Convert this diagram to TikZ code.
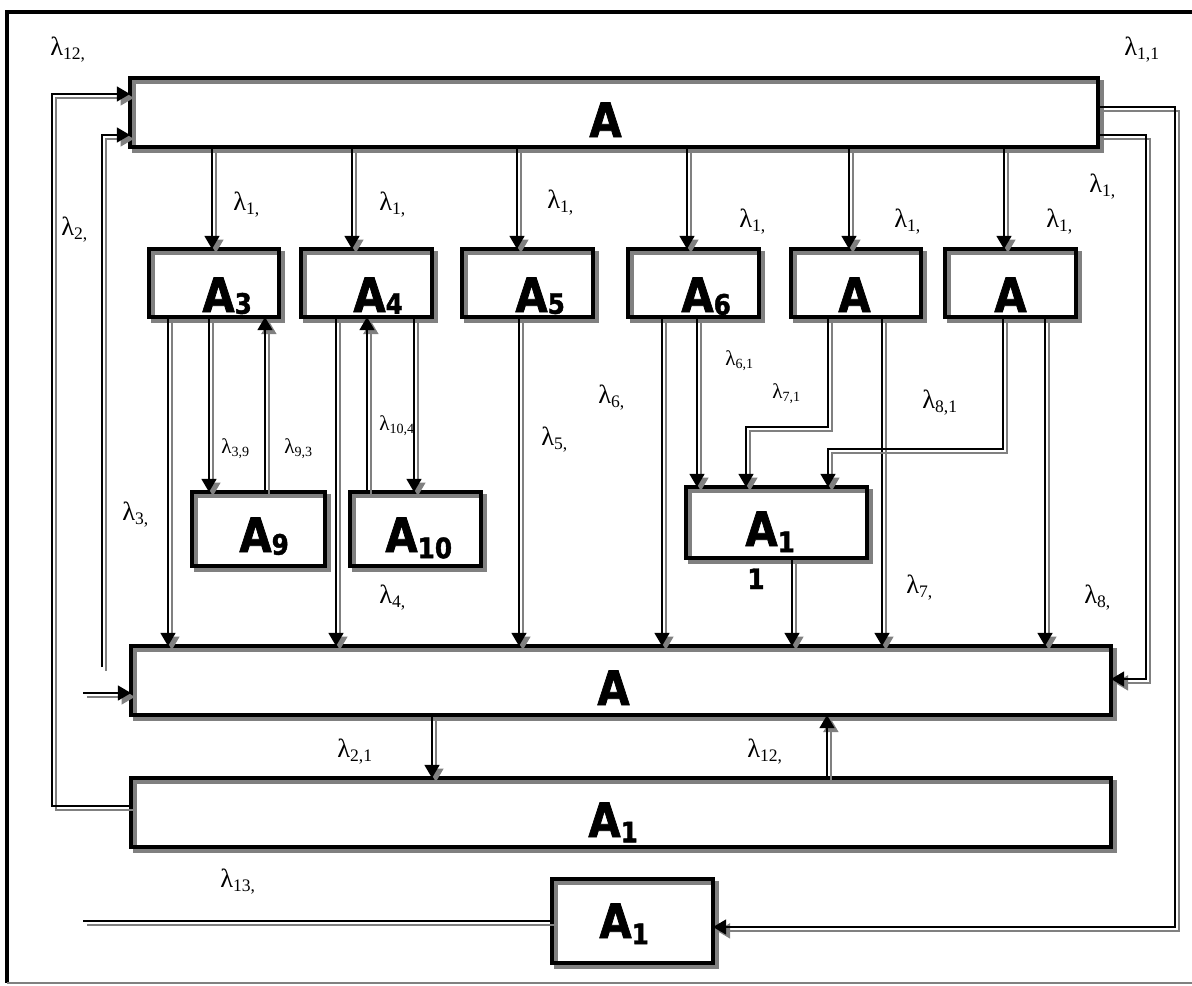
\documentclass[tikz,border=0pt]{standalone}
\usepackage{fontspec}
\setmainfont{Liberation Serif}
\newfontfamily\boxfont[FakeStretch=0.88, BoldFeatures={FakeBold=1.5}]{DejaVu Sans}
\usetikzlibrary{arrows.meta}
\definecolor{shd}{gray}{0.5}
\newcommand\Sb[2][1pt]{\raisebox{-#1}{\fontsize{16}{16}\selectfont #2}}
\newcommand\Lm[1]{λ\raisebox{-2.5pt}{\fontsize{10}{10}\selectfont #1}}
\newcommand\Ls[1]{λ\raisebox{-2pt}{\fontsize{8}{8}\selectfont #1}}
\newcommand\mkbox[5]{\node[bx, minimum width={(#4-#2)*0.02cm}, minimum height={(#5-#3)*0.02cm}] (#1) at ({(#2+#4)/2},{(#3+#5)/2}) {};}
\begin{document}
\begin{tikzpicture}[x=0.02cm,y=-0.02cm,
  bx/.style={draw, line width=2pt, inner sep=0pt, outer sep=0pt,
    preaction={draw=shd, line width=2pt, transform canvas={shift={(2.4pt,-2.4pt)}}}},
  ln/.style={line width=1.1pt,
    preaction={draw=shd, line width=1.1pt, transform canvas={shift={(2.2pt,-2.2pt)}}}},
  ar/.style={ln, -{Triangle[length=7.5pt,width=8.5pt]}},
  big/.style={font=\boxfont\bfseries\fontsize{27}{27}\selectfont, inner sep=0pt, anchor=base west},
  lb/.style={font=\fontsize{15}{15}\selectfont, inner sep=0pt, anchor=base west},
  ls/.style={font=\fontsize{12}{12}\selectfont, inner sep=0pt, anchor=base west}]
\useasboundingbox (0,0) rectangle (1192,985);
% frame
\draw[line width=2.2pt] (1192,12) -- (7,12) -- (7,983);
\draw[shd, line width=0.8pt] (7,983) -- (1192,983);
% boxes
\mkbox{ta}{130}{78}{1098}{147}
\mkbox{a3}{149}{249}{279}{317}
\mkbox{a4}{301}{249}{432}{317}
\mkbox{a5}{462}{249}{593}{317}
\mkbox{a6}{628}{249}{759}{317}
\mkbox{a7}{791}{249}{921}{317}
\mkbox{a8}{945}{249}{1076}{317}
\mkbox{a9}{192}{492}{325}{566}
\mkbox{a10}{350}{492}{481}{566}
\mkbox{a11}{686}{487}{867}{558}
\mkbox{ma}{131}{646}{1111}{715}
\mkbox{wa}{131}{778}{1111}{847}
\mkbox{sa}{552}{879}{713}{963}
% box texts
\node[big] (tta) at (589,137) {A};
\node[big] (ta3) at (202,312) {A\Sb{3}};
\node[big] (ta4) at (353,312) {A\Sb{4}};
\node[big] (ta5) at (515,312) {A\Sb{5}};
\node[big] (ta6) at (681,312) {A\Sb[1.5pt]{6}};
\node[big] (ta7) at (838,312) {A};
\node[big] (ta8) at (994,312) {A};
\node[big] (ta9) at (239,552) {A\Sb[1.5pt]{9}};
\node[big] (ta10) at (385,552) {A\Sb[3.5pt]{10}};
\node[big] (ta11) at (745,546) {A\Sb[3.5pt]{1}};
\node[font=\boxfont\bfseries\fontsize{16}{16}\selectfont, inner sep=0pt, anchor=base] (ta11b) at (756,589) {1};
\node[big] (tma) at (597,705) {A};
\node[big] (twa) at (588,837) {A\Sb[3pt]{1}};
\node[big] (tsa) at (599,938) {A\Sb[3.5pt]{1}};
% straight down arrows
\foreach \k/\x/\p/\q in {k1/212/ta/a3, k2/352/ta/a4, k3/517/ta/a5, k4/687/ta/a6, k5/849/ta/a7, k6/1004/ta/a8,
  k7/168/a3/ma, k8/209/a3/a9, k9/336/a4/ma, k10/414/a4/a10, k11/519/a5/ma, k12/662/a6/ma, k13/697/a6/a11,
  k14/882/a7/ma, k15/1045/a8/ma, k16/792/a11/ma, k17/432/ma/wa}
  {\coordinate (\k) at (\x,0); \draw[ar] (\p.south -| \k) -- (\q.north -| \k);}
% straight up arrows
\foreach \k/\x/\p/\q in {u1/265/a9/a3, u2/367/a10/a4, u3/827/wa/ma}
  {\coordinate (\k) at (\x,0); \draw[ar] (\p.north -| \k) -- (\q.south -| \k);}
% bent arrows into A11
\coordinate (b1) at (828,427); \coordinate (b2) at (746,427);
\draw[ar] (a7.south -| b1) -- (b1) -- (b2) -- (a11.north -| b2);
\coordinate (b3) at (1003,449); \coordinate (b4) at (828,449);
\draw[ar] (a8.south -| b3) -- (b3) -- (b4) -- (a11.north -| b4);
% loops
\coordinate (l1) at (52,806); \coordinate (l2) at (52,94);
\draw[ar] (wa.west |- l1) -- (l1) -- (l2) -- (ta.west |- l2);
\coordinate (l3) at (102,667); \coordinate (l4) at (102,135);
\draw[ar] (l3) -- (l4) -- (ta.west |- l4);
\coordinate (l5) at (83,693);
\draw[ar] (l5) -- (ma.west |- l5);
\coordinate (r1) at (1175,107); \coordinate (r2) at (1175,927);
\draw[ar] (ta.east |- r1) -- (r1) -- (r2) -- (sa.east |- r2);
\coordinate (r3) at (1146,135); \coordinate (r4) at (1146,679);
\draw[ar] (ta.east |- r3) -- (r3) -- (r4) -- (ma.east |- r4);
\coordinate (s1) at (83,921);
\draw[ln] (sa.west |- s1) -- (s1);
% lambda labels
\node[lb] (m1) at (50,55) {\Lm{12,}};
\node[lb] (m2) at (1124,55) {\Lm{1,1}};
\node[lb] (m3) at (61,235) {\Lm{2,}};
\node[lb] (m4) at (233,210) {\Lm{1,}};
\node[lb] (m5) at (379,210) {\Lm{1,}};
\node[lb] (m6) at (547,208) {\Lm{1,}};
\node[lb] (m7) at (739,227) {\Lm{1,}};
\node[lb] (m8) at (894,227) {\Lm{1,}};
\node[lb] (m9) at (1046,227) {\Lm{1,}};
\node[lb] (m10) at (1089,192) {\Lm{1,}};
\node[lb] (m11) at (122,520) {\Lm{3,}};
\node[lb] (m12) at (379,603) {\Lm{4,}};
\node[lb] (m13) at (541,445) {\Lm{5,}};
\node[lb] (m14) at (598,403) {\Lm{6,}};
\node[lb] (m15) at (906,593) {\Lm{7,}};
\node[lb] (m16) at (1084,603) {\Lm{8,}};
\node[lb] (m17) at (922,408) {\Lm{8,1}};
\node[lb] (m18) at (337,757) {\Lm{2,1}};
\node[lb] (m19) at (747,757) {\Lm{12,}};
\node[lb] (m20) at (220,887) {\Lm{13,}};
\node[ls] (s2) at (221,453) {\Ls{3,9}};
\node[ls] (s3) at (284,453) {\Ls{9,3}};
\node[ls] (s4) at (379,430) {\Ls{10,4}};
\node[ls] (s5) at (725,365) {\Ls{6,1}};
\node[ls] (s6) at (772,398) {\Ls{7,1}};
\end{tikzpicture}
\end{document}
